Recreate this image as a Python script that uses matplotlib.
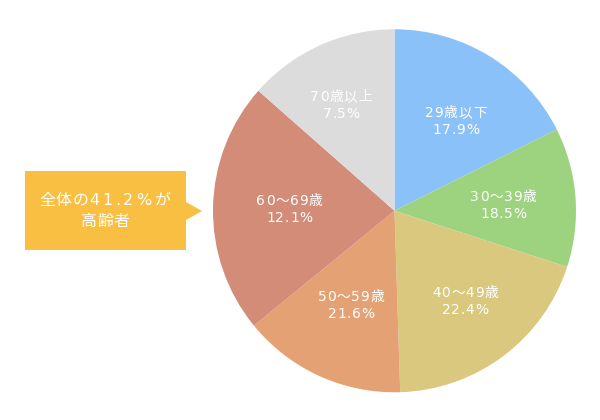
import matplotlib
matplotlib.use("Agg")
import matplotlib.pyplot as plt
from matplotlib.patches import Polygon
from matplotlib.font_manager import FontProperties, findfont, get_font
import numpy as np

CJK_FONT = "Noto Sans CJK JP"
LATIN_FONT = "DejaVu Sans"
plt.rcParams['font.family'] = [CJK_FONT, LATIN_FONT]

# 年代別の構成 (ラベルは元図のまま, 扇形の大きさは図から読み取り)
age_groups = ["29歳以下", "30〜39歳", "40〜49歳", "50〜59歳", "60〜69歳", "70歳以上"]
pct_labels = ["17.9%", "18.5%", "22.4%", "21.6%", "12.1%", "7.5%"]
slice_sizes = [17.6, 12.4, 19.5, 14.6, 22.4, 13.5]
colors = ["#8AC1F8", "#9DD37F", "#DAC87F", "#E4A274", "#D38C78", "#DCDCDC"]
callout_lines = ["全体の41.2%が", "高齢者"]

# ラベルの位置 (半径比, 扇形の中央からのずれ[度])
label_r = [0.60, 0.60, 0.63, 0.57, 0.58, 0.655]
label_shift = [-2.6, -1.2, 1.2, -0.5, 0.0, 2.4]

W, H = 600, 420
cx, cy, R = 394.5, H - 210.8, 181.5

fig = plt.figure(figsize=(6, 4.2), dpi=100)
ax = fig.add_axes([0, 0, 1, 1])

fonts = {
    LATIN_FONT: get_font(findfont(FontProperties(family=LATIN_FONT))),
    CJK_FONT: get_font(findfont(FontProperties(family=CJK_FONT))),
}


def spaced_text(x_mid, y_mid, lines, size, t_ascii, t_cjk, gap):
    """字間を空けて描く (座標はピクセル, y は上から)"""
    for f in fonts.values():
        f.set_size(size, 100)
    px = size * 100 / 72
    n = len(lines)
    for i, line in enumerate(lines):
        chars = []
        for ch in line:
            fam = LATIN_FONT if ord(ch) < 128 else CJK_FONT
            a = fonts[fam].load_char(ord(ch)).linearHoriAdvance / 65536
            chars.append((ch, fam, a + (t_ascii if fam == LATIN_FONT else t_cjk)))
        last = t_ascii if chars[-1][1] == LATIN_FONT else t_cjk
        x = x_mid - (sum(c[2] for c in chars) - last) / 2
        y_line = y_mid + (i - (n - 1) / 2) * gap
        base = H - y_line - 0.365 * px
        for ch, fam, a in chars:
            ax.text(x, base, ch, ha="left", va="baseline", fontsize=size,
                    family=fam, color="white")
            x += a


wedges, _ = ax.pie(slice_sizes, colors=colors, startangle=90, counterclock=False,
                   center=(cx, cy), radius=R, wedgeprops=dict(linewidth=0))
ax.set_xlim(0, W)
ax.set_ylim(0, H)
ax.set_aspect("equal")
ax.axis("off")

for w, name, pct, r, sh in zip(wedges, age_groups, pct_labels, label_r, label_shift):
    mid = np.deg2rad((w.theta1 + w.theta2) / 2 + sh)
    x = cx + r * R * np.cos(mid)
    y = H - (cy + r * R * np.sin(mid))
    spaced_text(x, y, [name, pct], 9.9, 0.7, 0.7, 17)

# 吹き出し
box = Polygon([(25, H - 171), (186, H - 171), (186, H - 202), (202, H - 211),
               (186, H - 220), (186, H - 250), (25, H - 250)],
              closed=True, facecolor="#F9BF42", edgecolor="none")
ax.add_patch(box)
spaced_text(105, 209.5, callout_lines, 11.5, 3.0, 0.5, 21)

fig.savefig("out.png", dpi=100)
